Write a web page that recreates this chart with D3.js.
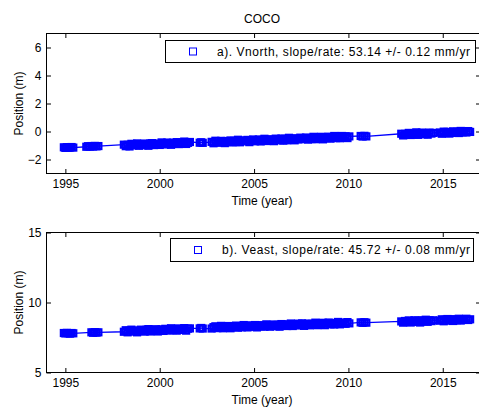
<!DOCTYPE html>
<html>
<head>
<meta charset="utf-8">
<script src="https://cdn.jsdelivr.net/npm/d3@7"></script>
<style>
  body { margin: 0; background: #fff; }
  svg { display: block; }
  text { font-family: "Liberation Sans", Arial, Helvetica, sans-serif; font-size: 12px; fill: #000; }
</style>
</head>
<body>
<svg id="chart" width="479" height="408"></svg>
<script>
// GPS station COCO: daily solutions, decimal year epochs grouped by campaign
const epochs = [
  1994.92, 1995.00, 1995.08, 1995.17, 1995.25, 1995.33, 1995.42,
  1996.11, 1996.20, 1996.29, 1996.38, 1996.47, 1996.56, 1996.65, 1996.75,
  1998.1, 1998.2, 1998.3, 1998.4, 1998.5, 1998.6, 1998.7, 1998.8, 1998.9, 1999.0,
  1999.1, 1999.2, 1999.3, 1999.4, 1999.5, 1999.6, 1999.7, 1999.8, 1999.9, 2000.0,
  2000.1, 2000.2, 2000.3, 2000.4, 2000.5, 2000.6, 2000.7, 2000.8, 2000.9, 2001.0,
  2001.1, 2001.2, 2001.3, 2001.4, 2001.5, 2001.6,
  2002.12, 2002.20, 2002.28,
  2002.75, 2002.85, 2002.95, 2003.05, 2003.15, 2003.25, 2003.35, 2003.45, 2003.55, 2003.65,
  2003.75, 2003.85, 2003.95, 2004.05, 2004.15, 2004.25, 2004.35, 2004.45, 2004.55, 2004.65,
  2004.75, 2004.85, 2004.95, 2005.05, 2005.15, 2005.25, 2005.35, 2005.45, 2005.55, 2005.65,
  2005.75, 2005.85, 2005.95, 2006.05, 2006.15, 2006.25, 2006.35, 2006.45, 2006.55, 2006.65,
  2006.75, 2006.85, 2006.95, 2007.05, 2007.15, 2007.25, 2007.35, 2007.45, 2007.55, 2007.65,
  2007.75, 2007.85, 2007.95, 2008.05, 2008.15, 2008.25, 2008.35, 2008.45, 2008.55, 2008.65,
  2008.75, 2008.85, 2008.95, 2009.05, 2009.15, 2009.25, 2009.35, 2009.45, 2009.55, 2009.65,
  2009.75, 2009.85, 2009.95, 2010.05,
  2010.65, 2010.75, 2010.85, 2010.95,
  2012.8, 2012.9, 2013.0, 2013.1, 2013.2, 2013.3, 2013.4, 2013.5, 2013.6, 2013.7,
  2013.8, 2013.9, 2014.0, 2014.1, 2014.2, 2014.3, 2014.4, 2014.5,
  2014.85, 2014.95, 2015.05, 2015.15, 2015.25, 2015.35, 2015.45, 2015.55, 2015.65, 2015.75,
  2015.85, 2015.95, 2016.05, 2016.15, 2016.25, 2016.35, 2016.45
];

// North component (m)
const north = [
  -1.13, -1.17, -1.12, -1.16, -1.14, -1.11, -1.15,
  -1.09, -1.05, -1.08, -1.04, -1.07, -1.03, -1.06, -1.04,
  -0.94, -1.05, -0.95, -1.07, -0.88, -0.99, -0.95, -0.85, -1.02, -0.91,
  -0.98, -0.86, -0.94, -1.02, -0.86, -0.83, -0.97, -0.90, -0.86, -0.96,
  -0.78, -0.90, -0.92, -0.79, -0.84, -0.95, -0.80, -0.86, -0.76, -0.90,
  -0.80, -0.87, -0.72, -0.89, -0.81, -0.75,
  -0.80, -0.77, -0.81,
  -0.74, -0.84, -0.66, -0.78, -0.80, -0.67, -0.72, -0.83, -0.68, -0.74,
  -0.64, -0.78, -0.67, -0.75, -0.59, -0.77, -0.68, -0.63, -0.70, -0.60,
  -0.76, -0.64, -0.57, -0.70, -0.66, -0.57, -0.71, -0.60, -0.52, -0.68,
  -0.61, -0.63, -0.55, -0.69, -0.51, -0.56, -0.63, -0.50, -0.65, -0.53,
  -0.63, -0.45, -0.57, -0.49, -0.63, -0.50, -0.57, -0.44, -0.54, -0.51,
  -0.43, -0.58, -0.47, -0.54, -0.38, -0.55, -0.44, -0.49, -0.38, -0.56,
  -0.40, -0.47, -0.37, -0.51, -0.43, -0.32, -0.47, -0.38, -0.48, -0.32,
  -0.42, -0.34, -0.47, -0.35,
  -0.32, -0.36, -0.31, -0.35,
  -0.16, -0.28, -0.17, -0.24, -0.10, -0.25, -0.14, -0.20, -0.06, -0.24,
  -0.15, -0.08, -0.19, -0.11, -0.23, -0.08, -0.15, -0.10,
  -0.07, -0.16, -0.01, -0.11, -0.03, -0.15, -0.04, 0.01, -0.10, -0.02,
  -0.11, 0.04, -0.06, -0.01, -0.07, 0.03, -0.03
];

// East component (m); null where no east solution exists
const east = [
  7.82, 7.79, 7.83, 7.80, 7.78, 7.82, 7.80,
  null, null, null, 7.87, 7.84, 7.88, 7.85, 7.87,
  7.91, 8.02, 7.87, 7.98, 8.06, 7.92, 8.00, 7.87, 7.98, 8.06,
  7.97, 7.92, 8.05, 8.10, 7.93, 8.04, 7.99, 8.09, 7.93, 8.05,
  8.08, 7.97, 8.12, 8.03, 8.00, 8.16, 8.03, 8.09, 7.99, 8.15,
  8.08, 8.04, 8.17, 7.99, 8.13, 8.15,
  8.15, 8.18, 8.14,
  8.14, 8.24, 8.30, 8.17, 8.21, 8.33, 8.16, 8.26, 8.22, 8.32,
  8.16, 8.31, 8.26, 8.35, 8.20, 8.31, 8.23, 8.39, 8.27, 8.22,
  8.37, 8.32, 8.26, 8.39, 8.22, 8.35, 8.30, 8.38, 8.27, 8.44,
  8.35, 8.27, 8.37, 8.43, 8.31, 8.40, 8.27, 8.46, 8.36, 8.44,
  8.32, 8.42, 8.50, 8.32, 8.41, 8.38, 8.49, 8.37, 8.51, 8.33,
  8.46, 8.49, 8.37, 8.48, 8.43, 8.56, 8.38, 8.52, 8.44, 8.55,
  8.38, 8.50, 8.57, 8.44, 8.50, 8.43, 8.54, 8.61, 8.44, 8.57,
  8.51, 8.48, 8.60, 8.51,
  8.58, 8.55, 8.59, 8.56,
  8.65, 8.56, 8.68, 8.61, 8.72, 8.57, 8.67, 8.73, 8.61, 8.70,
  8.57, 8.73, 8.66, 8.77, 8.62, 8.73, 8.67, 8.73,
  8.70, 8.80, 8.66, 8.77, 8.82, 8.70, 8.77, 8.68, 8.81, 8.74,
  8.84, 8.71, 8.81, 8.77, 8.84, 8.75, 8.80
];

const stationName = "COCO";
const yearTicks = [1995, 2000, 2005, 2010, 2015];
const northTicks = [-2, 0, 2, 4, 6];
const eastTicks = [5, 10, 15];
const northLegend = "a). Vnorth, slope/rate: 53.14 +/- 0.12 mm/yr";
const eastLegend = "b). Veast, slope/rate: 45.72 +/- 0.08 mm/yr";

const BLUE = "#0000ff";
const FONT = '"Liberation Sans", Arial, Helvetica, sans-serif';
const svg = d3.select("#chart");

const x = d3.scaleLinear().domain([1994, 2017]).range([46.5, 480.5]);

const panels = [
  { values: north, domain: [-3, 7], ticks: northTicks, legend: northLegend,
    top: 33.5, bottom: 173.5, box: { x: 165.5, y: 40.5, w: 310, h: 22 }, textW: 253 },
  { values: east, domain: [5, 15], ticks: eastTicks, legend: eastLegend,
    top: 232.5, bottom: 372.5, box: { x: 170.5, y: 238.5, w: 303, h: 23 }, textW: 248 }
];

svg.append("text")
  .attr("x", 262).attr("y", 22.5)
  .attr("text-anchor", "middle")
  .text(stationName);

const TICK = 4.5;
const MARK = 6;

panels.forEach(p => {
  const y = d3.scaleLinear().domain(p.domain).range([p.bottom, p.top]);
  const g = svg.append("g");
  const [x0, x1] = x.range();

  // axes box
  g.append("rect")
    .attr("x", x0).attr("y", p.top)
    .attr("width", x1 - x0).attr("height", p.bottom - p.top)
    .attr("fill", "none").attr("stroke", "#000").attr("stroke-width", 1);

  // inward ticks on all four sides
  g.append("g").attr("transform", `translate(0,${p.bottom})`)
    .call(d3.axisBottom(x).tickValues(yearTicks).tickFormat(d3.format("d"))
      .tickSizeInner(-TICK).tickSizeOuter(0).tickPadding(6));
  g.append("g").attr("transform", `translate(0,${p.top})`)
    .call(d3.axisTop(x).tickValues(yearTicks).tickFormat("")
      .tickSizeInner(-TICK).tickSizeOuter(0));
  g.append("g").attr("transform", `translate(${x0},0)`)
    .call(d3.axisLeft(y).tickValues(p.ticks).tickFormat(d3.format("d"))
      .tickSizeInner(-TICK).tickSizeOuter(0).tickPadding(5));
  g.append("g").attr("transform", `translate(${x1},0)`)
    .call(d3.axisRight(y).tickValues(p.ticks).tickFormat("")
      .tickSizeInner(-TICK).tickSizeOuter(0));
  g.selectAll(".domain").remove();
  g.selectAll(".tick line").attr("stroke", "#000");
  g.selectAll(".tick text").style("font-size", "12px").style("font-family", FONT);

  // axis labels
  g.append("text")
    .attr("x", 262).attr("y", p.bottom + 31)
    .attr("text-anchor", "middle")
    .text("Time (year)");
  g.append("text")
    .attr("transform", `translate(22.5,${(p.top + p.bottom) / 2}) rotate(-90)`)
    .attr("text-anchor", "middle")
    .text("Position (m)");

  // series: connecting line plus hollow square markers
  const pts = epochs.map((t, i) => ({ t, v: p.values[i] })).filter(d => d.v != null);
  g.append("path")
    .datum(pts)
    .attr("fill", "none").attr("stroke", BLUE).attr("stroke-width", 1.3)
    .attr("d", d3.line().x(d => x(d.t)).y(d => y(d.v)));
  g.append("g").selectAll("rect")
    .data(pts).join("rect")
    .attr("x", d => x(d.t) - MARK / 2).attr("y", d => y(d.v) - MARK / 2)
    .attr("width", MARK).attr("height", MARK)
    .attr("fill", "none").attr("stroke", BLUE).attr("stroke-width", 2.2);

  // legend
  const b = p.box;
  const lg = g.append("g");
  lg.append("rect")
    .attr("x", b.x).attr("y", b.y).attr("width", b.w).attr("height", b.h)
    .attr("fill", "#fff").attr("stroke", "#000").attr("stroke-width", 1);
  lg.append("rect")
    .attr("x", b.x + 24).attr("y", b.y + b.h / 2 - 3.5)
    .attr("width", 7).attr("height", 7)
    .attr("fill", "none").attr("stroke", BLUE).attr("stroke-width", 1);
  lg.append("text")
    .attr("x", b.x + 51.5).attr("y", b.y + b.h / 2 + 4.3)
    .attr("textLength", p.textW).attr("lengthAdjust", "spacing")
    .text(p.legend);
});
</script>
</body>
</html>
